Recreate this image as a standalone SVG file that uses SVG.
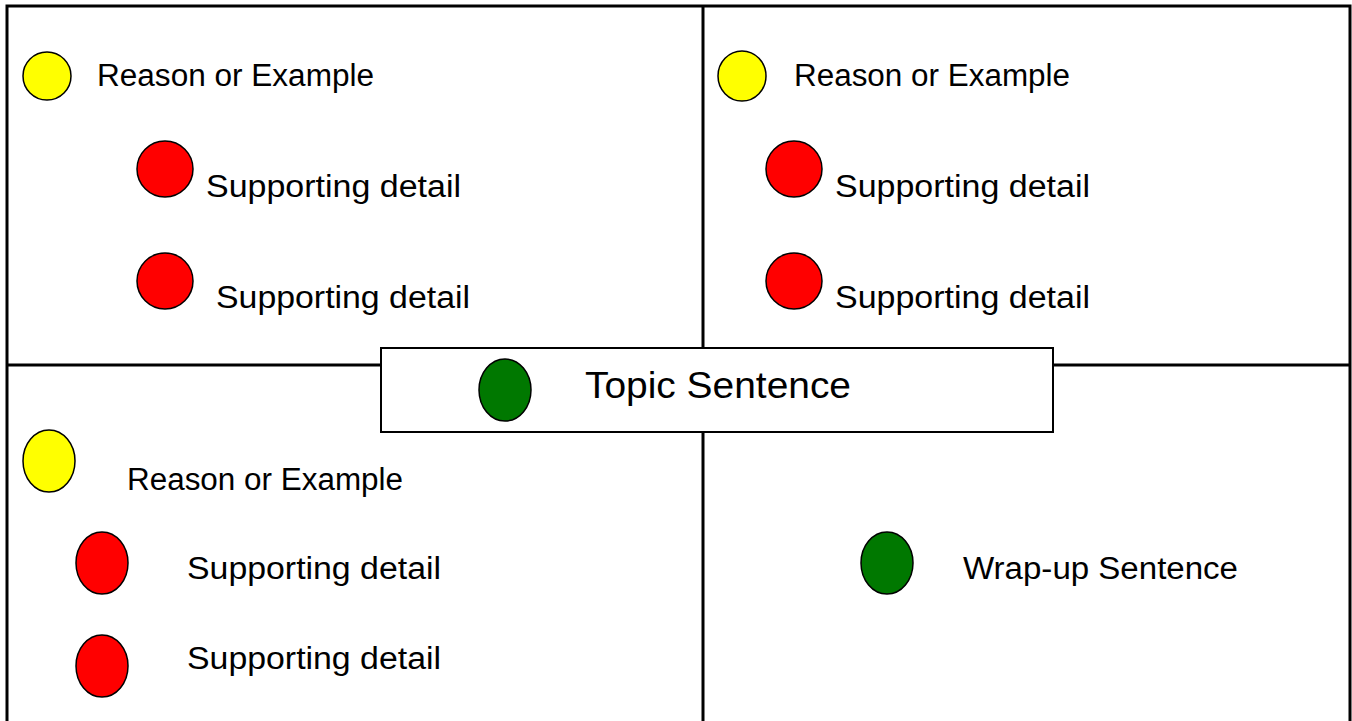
<svg xmlns="http://www.w3.org/2000/svg" width="1352" height="721" viewBox="0 0 1352 721">
<style>
.line{stroke:#000;stroke-width:3;fill:none}
.yellow{fill:#ffff00;stroke:#000;stroke-width:1.5}
.red{fill:#ff0000;stroke:#000;stroke-width:1.5}
.green{fill:#007800;stroke:#000;stroke-width:1.5}
text{font-family:"Liberation Sans",Arial,sans-serif;font-size:31px;fill:#000}
.big{font-size:37px}
</style>
<rect width="1352" height="721" fill="#fff"/>
<g id="connectors">
<path class="line" d="M7,730 V6 H1350 V730"/>
<path class="line" d="M703,6 V348 M703,432 V730"/>
<path class="line" d="M7,365 H381 M1053,365 H1350"/>
</g>
<g id="tl-reason"><circle class="yellow" cx="47" cy="76" r="24"/><text x="97" y="86" textLength="277" lengthAdjust="spacingAndGlyphs">Reason or Example</text></g>
<g id="tl-detail1"><circle class="red" cx="165" cy="169" r="28"/><text x="206" y="197" textLength="255" lengthAdjust="spacingAndGlyphs">Supporting detail</text></g>
<g id="tl-detail2"><circle class="red" cx="165" cy="281" r="28"/><text x="216" y="308" textLength="254" lengthAdjust="spacingAndGlyphs">Supporting detail</text></g>
<g id="tr-reason"><ellipse class="yellow" cx="742" cy="76" rx="24" ry="25"/><text x="794" y="86" textLength="276" lengthAdjust="spacingAndGlyphs">Reason or Example</text></g>
<g id="tr-detail1"><circle class="red" cx="794" cy="169" r="28"/><text x="835" y="197" textLength="255" lengthAdjust="spacingAndGlyphs">Supporting detail</text></g>
<g id="tr-detail2"><circle class="red" cx="794" cy="281" r="28"/><text x="835" y="308" textLength="255" lengthAdjust="spacingAndGlyphs">Supporting detail</text></g>
<g id="topic">
<rect x="382" y="349" width="672" height="84" fill="#999"/>
<rect x="381" y="348" width="672" height="84" fill="#fff" stroke="#000" stroke-width="2"/>
<ellipse class="green" cx="505" cy="390" rx="26" ry="31"/>
<text class="big" x="585" y="398" textLength="266" lengthAdjust="spacingAndGlyphs">Topic Sentence</text>
</g>
<g id="bl-reason"><ellipse class="yellow" cx="49" cy="461" rx="26" ry="31"/><text x="127" y="490" textLength="276" lengthAdjust="spacingAndGlyphs">Reason or Example</text></g>
<g id="bl-detail1"><ellipse class="red" cx="102" cy="563" rx="26" ry="31"/><text x="187" y="579" textLength="254" lengthAdjust="spacingAndGlyphs">Supporting detail</text></g>
<g id="bl-detail2"><ellipse class="red" cx="102" cy="666" rx="26" ry="31"/><text x="187" y="669" textLength="254" lengthAdjust="spacingAndGlyphs">Supporting detail</text></g>
<g id="br-wrapup"><ellipse class="green" cx="887" cy="563" rx="26" ry="31"/><text x="963" y="579" textLength="275" lengthAdjust="spacingAndGlyphs">Wrap-up Sentence</text></g>
</svg>
